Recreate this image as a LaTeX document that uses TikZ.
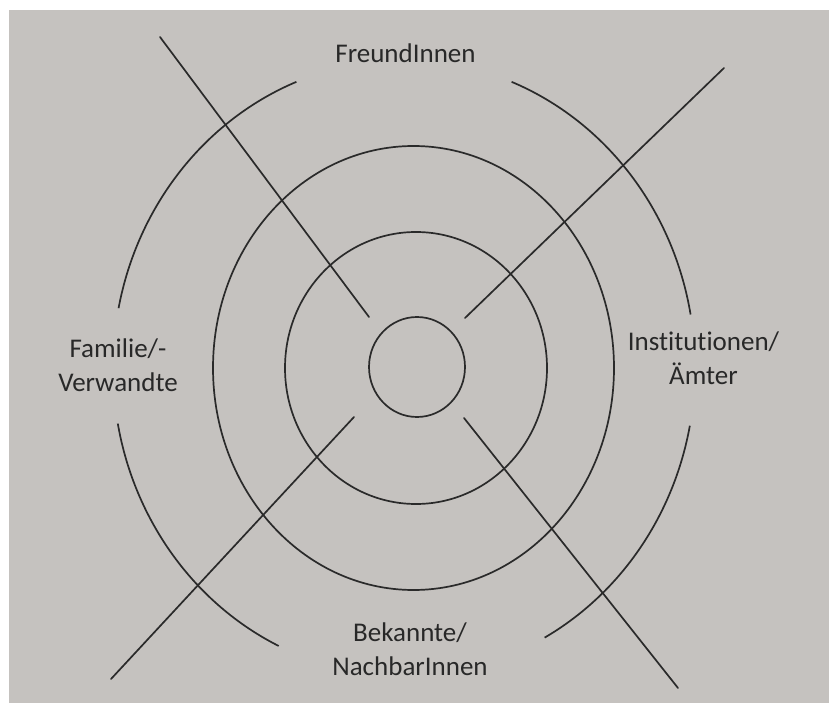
\documentclass[tikz,border=0pt]{standalone}
\usepackage{fontspec}
\setmainfont{Carlito}[Ligatures=NoCommon]
\usetikzlibrary{calc}
\definecolor{paper}{RGB}{197,194,191}
\definecolor{ink}{RGB}{42,42,42}
\definecolor{txt}{RGB}{40,40,40}
\begin{document}
\begin{tikzpicture}[x=1pt,y=1pt,
  ring/.style={draw=ink, line width=1.7pt},
  ray/.style={draw=ink, line width=1.7pt, line cap=round},
  lbl/.style={text=txt, align=center, inner sep=0pt, anchor=base,
    font=\fontsize{27}{34}\selectfont}]
\useasboundingbox (0,0) rectangle (829,702);
\fill[white] (-2,-2) rectangle (831,704);
\fill[paper] (9,-3) rectangle (832,692);
% inner circles
\draw[ring] (417,335) ellipse[x radius=48, y radius=50];
\draw[ring] (416,334) ellipse[x radius=131, y radius=136];
\draw[ring] (413.5,334) ellipse[x radius=200.5, y radius=222];
% outer broken ring (centre 404,334; radii 291, 308)
\coordinate (oc) at (404,334);
\draw[ring] ($(oc)+(111.7:291 and 308)$) arc[start angle=111.7, end angle=168.8, x radius=291, y radius=308];
\draw[ring] ($(oc)+(10:291 and 308)$) arc[start angle=10, end angle=68.3, x radius=291, y radius=308];
\draw[ring] ($(oc)+(190.4:291 and 308)$) arc[start angle=190.4, end angle=244.5, x radius=291, y radius=308];
\draw[ring] ($(oc)+(298.9:291 and 308)$) arc[start angle=298.9, end angle=349.2, x radius=291, y radius=308];
% rays
\coordinate (l1a) at (160,665); \coordinate (l1b) at (369,385);
\coordinate (l2a) at (724,634); \coordinate (l2b) at (465,384);
\coordinate (l3a) at (354,285); \coordinate (l3b) at (111,23);
\coordinate (l4a) at (464,284); \coordinate (l4b) at (678,14);
\draw[ray] (l1a) -- (l1b);
\draw[ray] (l2a) -- (l2b);
\draw[ray] (l3a) -- (l3b);
\draw[ray] (l4a) -- (l4b);
% labels (base anchor = baseline of last line)
\node[lbl] (fr) at (405.5,639) {FreundInnen};
\node[lbl] (fam) at (118,310) {Familie/-\\Verwandte};
\node[lbl] (ins) at (703.5,317) {Institutionen/\\Ämter};
\node[lbl] (bek) at (410,27) {Bekannte/\\NachbarInnen};
\end{tikzpicture}
\end{document}
